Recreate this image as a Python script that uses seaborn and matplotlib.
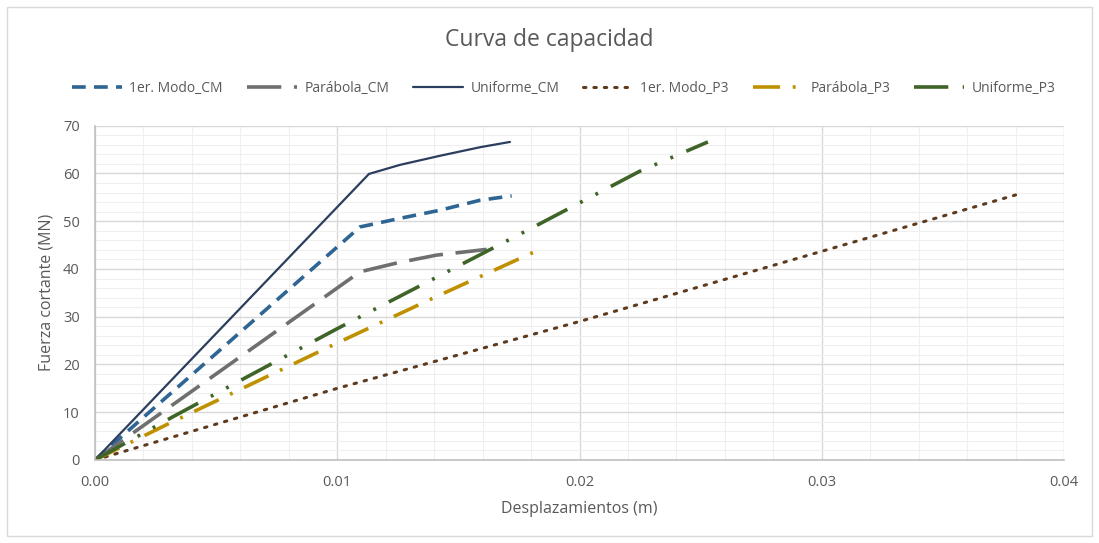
import matplotlib
matplotlib.use("Agg")
import matplotlib.pyplot as plt
import seaborn as sns
import pandas as pd
from matplotlib.patches import Rectangle
from matplotlib.ticker import MultipleLocator, FormatStrFormatter

# Data
series_names = ["1er. Modo_CM", "Parábola_CM", "Uniforme_CM",
                "1er. Modo_P3", "Parábola_P3", "Uniforme_P3"]

modo_cm_x = [0.0, 0.01094, 0.01259, 0.01424, 0.0159, 0.0172]
modo_cm_y = [0.0, 48.8, 50.6, 52.3, 54.4, 55.3]

parabola_cm_x = [0.0, 0.01094, 0.0125, 0.0141, 0.01617]
parabola_cm_y = [0.0, 39.4, 41.3, 42.9, 44.1]

uniforme_cm_x = [0.0, 0.01131, 0.01259, 0.01424, 0.0159, 0.01713]
uniforme_cm_y = [0.0, 59.9, 61.8, 63.7, 65.5, 66.6]

modo_p3_x = [0.0, 0.01, 0.02, 0.03, 0.038]
modo_p3_y = [0.0, 15.0, 29.0, 43.7, 55.5]

parabola_p3_x = [0.0, 0.003, 0.0065, 0.01, 0.014, 0.0181]
parabola_p3_y = [0.0, 7.5, 16.0, 24.5, 34.0, 43.5]

uniforme_p3_x = [0.0, 0.0032, 0.0065, 0.01, 0.014, 0.018, 0.0225, 0.0253]
uniforme_p3_y = [0.0, 9.0, 18.0, 27.5, 38.0, 48.5, 60.5, 66.6]

x_ticks = [0.00, 0.01, 0.02, 0.03, 0.04]
y_ticks = [0, 10, 20, 30, 40, 50, 60, 70]

all_x = [modo_cm_x, parabola_cm_x, uniforme_cm_x, modo_p3_x, parabola_p3_x, uniforme_p3_x]
all_y = [modo_cm_y, parabola_cm_y, uniforme_cm_y, modo_p3_y, parabola_p3_y, uniforme_p3_y]

# Styles (dash patterns in units of line width)
colors = ["#2F6592", "#6F6F6F", "#2B3E5E", "#5E3B1E", "#BF9000", "#3F6428"]
dashes = [(3.8, 2.3), (9.5, 3.5), None, (0.8, 2.6),
          (7.5, 3.5, 0.8, 3.5), (9.5, 4.0, 0.8, 4.0, 0.8, 4.0)]
widths = [2.6, 2.6, 1.6, 2.2, 2.6, 2.6]

sns.set_style("white")
plt.rcParams["font.family"] = ["Open Sans", "DejaVu Sans"]

fig = plt.figure(figsize=(10.99, 5.43), dpi=100)
ax = fig.add_axes([0.0864, 0.1529, 0.8818, 0.6156])

for name, xs, ys, c, d, w in zip(series_names, all_x, all_y, colors, dashes, widths):
    df = pd.DataFrame({"x": xs, "y": ys})
    sns.lineplot(data=df, x="x", y="y", ax=ax, color=c, linewidth=w,
                 label=name, sort=False, estimator=None)
    line = ax.get_lines()[-1]
    if d is not None:
        line.set_dashes(d)
    if name == "1er. Modo_P3":
        line.set_dash_capstyle("round")

ax.set_xlim(0, 0.04)
ax.set_ylim(0, 70)
ax.set_xticks(x_ticks)
ax.set_yticks(y_ticks)
ax.xaxis.set_major_formatter(FormatStrFormatter("%.2f"))
ax.xaxis.set_minor_locator(MultipleLocator(0.002))
ax.yaxis.set_minor_locator(MultipleLocator(2))

ax.grid(which="major", color="#D9D9D9", linewidth=1.0)
ax.grid(which="minor", color="#EFEFEF", linewidth=0.8)
ax.set_axisbelow(True)

for s in ["top", "right"]:
    ax.spines[s].set_visible(False)
for s in ["left", "bottom"]:
    ax.spines[s].set_color("#BFBFBF")
    ax.spines[s].set_linewidth(1.2)

ax.tick_params(axis="both", which="major", colors="#BFBFBF", labelcolor="#595959",
               labelsize=10.5, length=5, width=1, direction="out", pad=6)
ax.tick_params(axis="both", which="minor", length=0)

ax.set_xlabel("Desplazamientos (m)", fontsize=11.5, color="#595959", labelpad=8)
ax.set_ylabel("Fuerza cortante (MN)", fontsize=11.5, color="#595959", labelpad=6)

fig.suptitle("Curva de capacidad", y=1 - 40 / 543, va="center",
             fontsize=16.5, color="#595959")

handles, labels = ax.get_legend_handles_labels()
ax.get_legend().remove()
fig.legend(handles, labels, loc="center", bbox_to_anchor=(0.513, 1 - 88 / 543),
           ncol=6, frameon=False, fontsize=10, handlelength=3.6,
           columnspacing=1.75, handletextpad=0.5, labelcolor="#595959")

fig.patches.append(Rectangle((7 / 1099, 7 / 543), 1 - 14 / 1099, 1 - 14 / 543,
                             transform=fig.transFigure, fill=False,
                             edgecolor="#D9D9D9", linewidth=1))

fig.savefig("out.png", dpi=100)
